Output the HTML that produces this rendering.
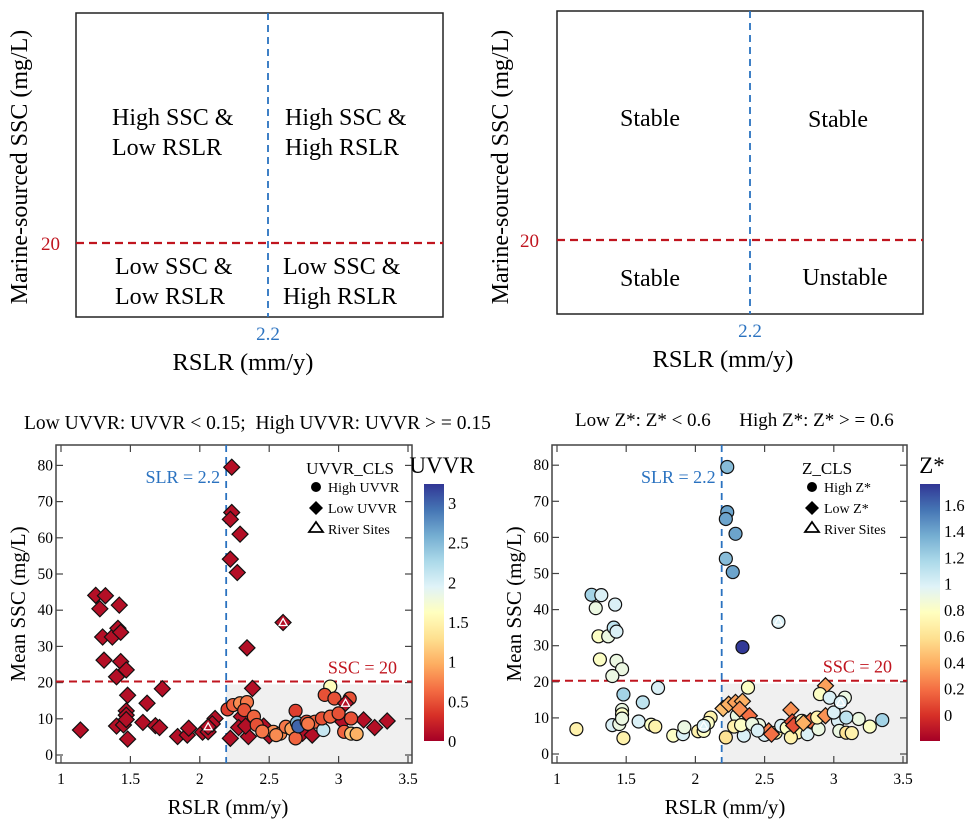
<!DOCTYPE html>
<html><head><meta charset="utf-8"><style>
body{margin:0;background:#fff;}
svg{display:block;font-family:"Liberation Serif",serif;}
</style></head><body>
<svg id="fig" width="978" height="826" viewBox="0 0 978 826" xmlns="http://www.w3.org/2000/svg">
<g>
<rect x="76" y="13" width="367" height="304" fill="none" stroke="#222" stroke-width="1.5"/>
<line x1="268" y1="13" x2="268" y2="317" stroke="#2a72c0" stroke-width="1.8" stroke-dasharray="7,5"/>
<line x1="76" y1="243" x2="443" y2="243" stroke="#c0151f" stroke-width="2.2" stroke-dasharray="8,5"/>
<text x="60" y="250" font-size="19" fill="#c0151f" text-anchor="end">20</text>
<text x="268" y="340" font-size="19" fill="#2a72c0" text-anchor="middle">2.2</text>
<text x="243" y="370" font-size="24.5" text-anchor="middle">RSLR (mm/y)</text>
<text transform="translate(27,167) rotate(-90)" font-size="24" text-anchor="middle">Marine-sourced SSC (mg/L)</text>
<text font-size="24"><tspan x="112" y="125">High SSC &amp;</tspan><tspan x="112" y="155">Low RSLR</tspan></text>
<text font-size="24"><tspan x="285" y="125">High SSC &amp;</tspan><tspan x="285" y="155">High RSLR</tspan></text>
<text font-size="24"><tspan x="115" y="274">Low SSC &amp;</tspan><tspan x="115" y="304">Low RSLR</tspan></text>
<text font-size="24"><tspan x="283" y="274">Low SSC &amp;</tspan><tspan x="283" y="304">High RSLR</tspan></text>
</g>
<g>
<rect x="557" y="11" width="366" height="303" fill="none" stroke="#222" stroke-width="1.5"/>
<line x1="750" y1="11" x2="750" y2="314" stroke="#2a72c0" stroke-width="1.8" stroke-dasharray="7,5"/>
<line x1="557" y1="240" x2="923" y2="240" stroke="#c0151f" stroke-width="2.2" stroke-dasharray="8,5"/>
<text x="539" y="247" font-size="19" fill="#c0151f" text-anchor="end">20</text>
<text x="750" y="337" font-size="19" fill="#2a72c0" text-anchor="middle">2.2</text>
<text x="723" y="367" font-size="24.5" text-anchor="middle">RSLR (mm/y)</text>
<text transform="translate(508,167) rotate(-90)" font-size="24" text-anchor="middle">Marine-sourced SSC (mg/L)</text>
<text x="650" y="126" font-size="24" text-anchor="middle">Stable</text>
<text x="838" y="127" font-size="24" text-anchor="middle">Stable</text>
<text x="650" y="286" font-size="24" text-anchor="middle">Stable</text>
<text x="845" y="285" font-size="24" text-anchor="middle">Unstable</text>
</g>
<text x="24" y="429" font-size="19.5" xml:space="preserve">Low UVVR: UVVR &lt; 0.15;  High UVVR: UVVR &gt; = 0.15</text>
<text x="575" y="426" font-size="19" xml:space="preserve">Low Z*: Z* &lt; 0.6      High Z*: Z* &gt; = 0.6</text>
<g id="chartL"></g>
<g id="chartR"></g>
</svg>
<script>
// Data: RSLR (mm/y), mean SSC (mg/L), UVVR, Z*
const rslr = [1.25,1.32,1.28,1.42,1.30,1.37,1.41,1.43,1.31,1.43,1.47,1.40,1.48,1.73,1.62,1.47,1.40,1.45,1.48,1.14,1.59,1.68,1.71,1.84,1.91,1.92,2.02,2.06,2.11,2.09,
 2.23,2.23,2.22,2.29,2.22,2.27,2.60,2.34,2.38,2.30,2.22,2.28,2.35,2.33,2.46,2.50,2.74,2.81,3.03,3.18,3.26,3.35,
 2.20,2.24,2.29,2.34,2.32,2.39,2.41,2.53,2.58,2.62,2.66,2.69,2.69,2.70,2.71,2.77,2.83,2.89,2.88,2.94,2.94,2.90,2.97,3.00,3.08,3.09,3.04,3.09,3.13,2.55,2.78,2.45,
 1.47,1.47,2.06,3.05];
const ssc = [44.1,44.0,40.4,41.4,32.6,32.6,35.0,33.9,26.2,25.8,23.5,21.6,16.5,18.3,14.3,12.2,8.0,8.3,4.4,6.9,9.0,8.1,7.6,5.1,5.5,7.4,6.3,6.4,10.1,8.6,
 79.5,67.0,65.1,61.0,54.1,50.4,36.6,29.6,18.4,10.6,4.6,7.6,5.1,8.0,8.0,5.3,6.0,5.5,9.2,9.7,7.6,9.4,
 12.6,13.8,14.3,14.6,12.4,10.6,8.3,6.4,5.9,7.8,7.2,12.2,4.6,8.9,7.9,9.2,9.2,6.9,10.1,10.6,18.9,16.6,15.6,11.5,15.6,10.1,6.4,5.9,5.8,5.5,8.6,6.5,
 11.0,9.8,7.8,14.3];
const uvvr = [0.1,0.1,0.1,0.1,0.1,0.1,0.1,0.1,0.1,0.1,0.1,0.1,0.1,0.1,0.1,0.1,0.1,0.1,0.1,0.1,0.1,0.1,0.1,0.1,0.1,0.1,0.1,0.1,0.1,0.1,
 0.1,0.1,0.1,0.1,0.1,0.1,0.1,0.1,0.1,0.1,0.1,0.1,0.1,0.1,0.1,0.1,0.1,0.1,0.1,0.1,0.1,0.1,
 0.4,0.6,0.8,0.7,0.5,0.6,0.5,0.8,0.8,0.7,0.9,0.4,0.6,2.5,3.0,0.5,0.6,2.1,0.5,0.6,1.6,0.5,0.5,0.5,0.5,0.5,0.6,1.1,1.0,0.8,0.7,0.7,
 0.1,0.1,0.1,0.1];
const zstar = [1.2,1.0,0.9,1.0,0.8,0.9,1.1,1.0,0.8,0.9,0.9,0.9,1.2,1.0,1.1,0.9,1.0,0.9,0.7,0.7,1.0,0.8,0.7,0.8,1.0,0.9,0.7,0.8,0.7,0.8,
 1.3,1.4,1.4,1.4,1.3,1.4,1.0,1.75,0.8,0.9,0.6,0.7,1.0,0.8,0.9,1.0,0.7,1.0,1.0,0.9,0.8,1.2,
 0.45,0.4,0.35,0.4,0.3,0.2,0.9,0.25,0.7,1.0,0.8,0.3,0.7,0.1,0.1,0.8,0.2,0.9,0.7,0.3,0.35,0.8,1.0,1.0,0.9,1.1,0.9,0.6,0.7,0.2,0.4,1.0,0.8,0.9,
 1.0,1.0,0.8,1.0];
const riverIdx = [36,86,87,88,89];
const xTicks = [1,1.5,2,2.5,3,3.5];
const yTicks = [0,10,20,30,40,50,60,70,80];
const uvvrTicks = [0,0.5,1,1.5,2,2.5,3];
const zTicks = [0,0.2,0.4,0.6,0.8,1,1.2,1.4,1.6];

const NS="http://www.w3.org/2000/svg";
function mk(parent,tag,attrs){const e=document.createElementNS(NS,tag);for(const k in attrs)e.setAttribute(k,attrs[k]);parent.appendChild(e);return e;}
const stops=[[165,0,38],[215,48,39],[244,109,67],[253,174,97],[254,224,144],[255,255,191],[224,243,248],[171,217,233],[116,173,209],[69,117,180],[49,54,149]];
function cmap(t){t=Math.max(0,Math.min(1,t));const p=t*(stops.length-1);const i=Math.min(Math.floor(p),stops.length-2);const f=p-i;
 const c=stops[i].map((v,k)=>Math.round(v+(stops[i+1][k]-v)*f));return `rgb(${c[0]},${c[1]},${c[2]})`;}

function drawChart(g,cfg){
 const L=cfg.left,R=cfg.right,T=445,B=763;
 const sx=v=>cfg.x1+(v-1)*cfg.xu;
 const sy=v=>cfg.y0-v*cfg.yu;
 let e;
 e=mk(g,'rect',{x:sx(2.19),y:sy(19.5),width:R-sx(2.19),height:B-sy(19.5),fill:'#f0f0f0'});
 
 
 e=mk(g,'rect',{x:L,y:T,width:R-L,height:B-T,fill:'none',stroke:'#444','stroke-width':1.5});
 
 
 xTicks.forEach(v=>{
  e=mk(g,'line',{x1:sx(v),x2:sx(v),y1:B,y2:B-7,stroke:'#444','stroke-width':1.2});
  
  
  mk(g,'line',{x1:sx(v),x2:sx(v),y1:T,y2:T+7,stroke:'#444','stroke-width':1.2});
  e=mk(g,'text',{x:sx(v),y:784,'font-size':15.5,'text-anchor':'middle'});e.textContent=v;
  
  
 });
 yTicks.forEach(v=>{
  e=mk(g,'line',{x1:L,x2:L+7,y1:sy(v),y2:sy(v),stroke:'#444','stroke-width':1.2});
  
  
  mk(g,'line',{x1:R,x2:R-7,y1:sy(v),y2:sy(v),stroke:'#444','stroke-width':1.2});
  e=mk(g,'text',{x:L-3,y:sy(v)+5,'font-size':15.5,'text-anchor':'end'});e.textContent=v;
  
  
 });
 e=mk(g,'line',{x1:sx(2.19),x2:sx(2.19),y1:T,y2:B,stroke:'#2a72c0','stroke-width':1.8,'stroke-dasharray':'7,5'});
 
 
 e=mk(g,'line',{x1:L,x2:R,y1:sy(20.3),y2:sy(20.3),stroke:'#c0151f','stroke-width':2,'stroke-dasharray':'8,5'});
 
 
 e=mk(g,'text',{x:sx(2.19)-6,y:483,'font-size':18,fill:'#2a72c0','text-anchor':'end'});e.textContent='SLR = 2.2';
 
 
 e=mk(g,'text',{x:R-15,y:sy(20.3)-8,'font-size':18,fill:'#c0151f','text-anchor':'end'});e.textContent='SSC = 20';
 
 
 const vals=cfg.vals;
 for(let i=0;i<rslr.length;i++){
  const x=sx(rslr[i]),y=sy(ssc[i]);const col=cmap((vals[i]-cfg.vmin)/(cfg.vmax-cfg.vmin));
  if(vals[i]<cfg.thr){
   e=mk(g,'path',{d:`M${x} ${y-8}L${x+8} ${y}L${x} ${y+8}L${x-8} ${y}Z`,fill:col,stroke:'#111','stroke-width':1.2});
   
  } else {
   e=mk(g,'circle',{cx:x,cy:y,r:6.5,fill:col,stroke:'#111','stroke-width':1.2});
   
  }
  
  if(riverIdx.includes(i)){
   e=mk(g,'path',{d:`M${x} ${y-4}L${x+4} ${y+3}L${x-4} ${y+3}Z`,fill:'none',stroke:'#fff','stroke-width':1.3});
   
   
  }
 }
 const lx=cfg.legX;
 e=mk(g,'text',{x:lx+cfg.legTitleDx,y:474,'font-size':17,'text-anchor':'middle'});e.textContent=cfg.legTitle;
 
 
 mk(g,'circle',{cx:lx,cy:487,r:5,fill:'#000'});
 mk(g,'path',{d:`M${lx} ${501}L${lx+7} ${508}L${lx} ${515}L${lx-7} ${508}Z`,fill:'#000'});
 mk(g,'path',{d:`M${lx} ${522}L${lx+7} ${532}L${lx-7} ${532}Z`,fill:'none',stroke:'#000','stroke-width':1.8});
 cfg.legItems.forEach((t,k)=>{e=mk(g,'text',{x:lx+12,y:492+k*21,'font-size':14});e.textContent=t;
  
  });
 const cbT=484,cbB=741,cx=cfg.cbX,cw=20;
 const gid='grad'+cfg.id;const defs=mk(g,'defs',{});const lg=mk(defs,'linearGradient',{id:gid,x1:0,y1:1,x2:0,y2:0});
 for(let k=0;k<=20;k++)mk(lg,'stop',{offset:k/20,'stop-color':cmap(k/20)});
 e=mk(g,'rect',{x:cx,y:cbT,width:cw,height:cbB-cbT,fill:`url(#${gid})`});
 
 
 const cy=v=>cbB-(v-cfg.vmin)/(cfg.vmax-cfg.vmin)*(cbB-cbT);
 cfg.cbTicks.forEach(v=>{e=mk(g,'text',{x:cx+cw+4,y:cy(v)+6,'font-size':16.5});e.textContent=v;
  
  });
 e=mk(g,'text',{x:cx+cfg.cbTitleDx,y:473,'font-size':23,'text-anchor':'middle'});e.textContent=cfg.cbTitle;
 
 
 e=mk(g,'text',{x:cfg.xtX,y:814,'font-size':21,'text-anchor':'middle'});e.textContent='RSLR (mm/y)';
 
 
 e=mk(g,'text',{transform:`translate(${cfg.ytX},604) rotate(-90)`,'font-size':21,'text-anchor':'middle'});e.textContent='Mean SSC (mg/L)';
 
 
}
drawChart(document.getElementById('chartL'),{id:'L',left:56,right:412,x1:61,xu:138.8,y0:755,yu:3.62,vals:uvvr,thr:0.15,vmin:0,vmax:3.24,
 legX:316,legTitle:'UVVR_CLS',legTitleDx:34,legItems:['High UVVR','Low UVVR','River Sites'],cbX:424,cbTicks:uvvrTicks,cbTitle:'UVVR',cbTitleDx:18,xtX:228,ytX:25});
drawChart(document.getElementById('chartR'),{id:'R',left:552,right:907,x1:557,xu:138.4,y0:754,yu:3.61,vals:zstar,thr:0.6,vmin:-0.2,vmax:1.76,
 legX:812,legTitle:'Z_CLS',legTitleDx:15,legItems:['High Z*','Low Z*','River Sites'],cbX:920,cbTicks:zTicks,cbTitle:'Z*',cbTitleDx:12,xtX:725,ytX:521});
</script>
</body></html>
